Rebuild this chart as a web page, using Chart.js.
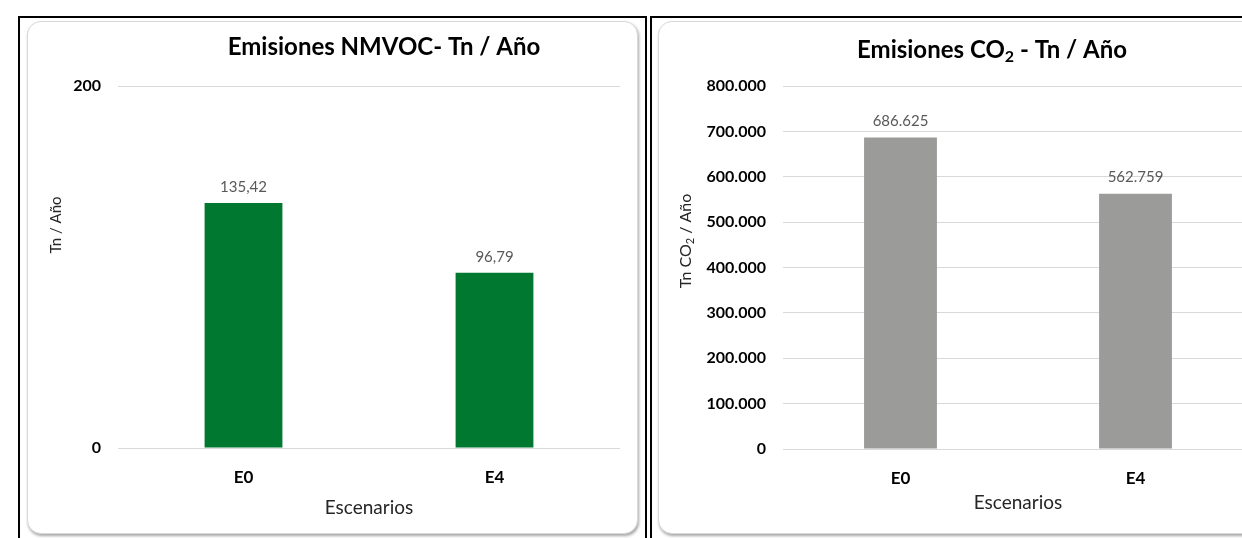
<!DOCTYPE html>
<html>
<head>
<meta charset="utf-8">
<script src="https://cdn.jsdelivr.net/npm/chart.js@4/dist/chart.umd.min.js"></script>
<style>
  body { margin:0; background:#fff; width:1242px; height:538px; overflow:hidden; position:relative; }
  .frame { position:absolute; top:16px; height:600px; border:2px solid #000; box-sizing:border-box; }
  .card { position:absolute; top:21px; width:611px; height:513px; border:1px solid #d9d9d9; border-radius:14px;
          box-shadow:1px 2px 3px rgba(0,0,0,0.35); background:#fff; box-sizing:border-box; overflow:hidden; }
  .card canvas { position:absolute; left:-1px; top:-1px; }
</style>
</head>
<body>
<div class="frame" style="left:18px;width:629px"></div>
<div class="frame" style="left:650px;width:700px"></div>
<div class="card" style="left:27px"><canvas id="nmvocChart" width="611" height="512"></canvas></div>
<div class="card" style="left:658px"><canvas id="co2Chart" width="611" height="512"></canvas></div>

<script>
// Scenario data
const scenarios = ["E0", "E4"];
const nmvocValues = [135.42, 96.79];
const co2Values = [686625, 562759];
const nmvocTicks = [0, 200];
const co2Ticks = [0, 100000, 200000, 300000, 400000, 500000, 600000, 700000, 800000];

const FONT = "Lato, 'Open Sans', sans-serif";

// spanish number format: 686.625 / 135,42
function fmtEs(v, dec) {
  const parts = v.toFixed(dec).split(".");
  const intPart = parts[0].replace(/\B(?=(\d{3})+(?!\d))/g, ".");
  return parts[1] ? intPart + "," + parts[1] : intPart;
}

// value above each bar
const valueLabels = {
  id: "valueLabels",
  afterDatasetsDraw(chart, args, opts) {
    const ctx = chart.ctx;
    const data = chart.data.datasets[0].data;
    ctx.save();
    ctx.font = "15px " + FONT;
    ctx.fillStyle = "#595959";
    ctx.textAlign = "center";
    ctx.textBaseline = "middle";
    chart.getDatasetMeta(0).data.forEach((bar, i) => {
      ctx.fillText(fmtEs(data[i], opts.decimals), bar.x, bar.y - 16);
    });
    ctx.restore();
  }
};

// text with subscripts (titles)
const richText = {
  id: "richText",
  afterDraw(chart, args, opts) {
    const ctx = chart.ctx;
    (opts.items || []).forEach(item => {
      ctx.save();
      ctx.translate(item.x, item.y);
      if (item.rotate) ctx.rotate(item.rotate);
      ctx.fillStyle = item.color;
      ctx.textBaseline = "middle";
      ctx.textAlign = "left";
      const big = item.weight + " " + item.size + "px " + FONT;
      const small = item.weight + " " + Math.round(item.size * 0.68) + "px " + FONT;
      let total = 0;
      item.parts.forEach(p => { ctx.font = p[1] ? small : big; total += ctx.measureText(p[0]).width; });
      let x = -total / 2;
      item.parts.forEach(p => {
        ctx.font = p[1] ? small : big;
        ctx.fillText(p[0], x, p[1] ? item.size * 0.28 : 0);
        x += ctx.measureText(p[0]).width;
      });
      ctx.restore();
    });
  }
};

function makeChart(id, values, ticks, color, opt) {
  return new Chart(document.getElementById(id), {
    type: "bar",
    data: {
      labels: scenarios,
      datasets: [{ data: values, backgroundColor: color, categoryPercentage: 1, barPercentage: 0.31 }]
    },
    options: {
      responsive: false,
      animation: false,
      layout: { padding: { top: 65, right: opt.padRight, bottom: 0, left: 0 } },
      plugins: {
        legend: { display: false },
        tooltip: { enabled: false },
        valueLabels: { decimals: opt.decimals },
        richText: { items: opt.titles }
      },
      scales: {
        x: {
          grid: { display: false },
          border: { display: false },
          ticks: { color: "#000", font: { family: FONT, size: 17, weight: "bold" }, padding: 11 },
          title: { display: true, text: "Escenarios", color: "#262626",
                   font: { family: FONT, size: 19 }, padding: { top: 0, bottom: opt.xTitlePad } },
          afterFit: s => { s.height = opt.xHeight; }
        },
        y: {
          min: ticks[0], max: ticks[ticks.length - 1],
          afterBuildTicks: s => { s.ticks = ticks.map(v => ({ value: v })); },
          grid: { color: "#d9d9d9", drawTicks: false },
          border: { display: false },
          ticks: { color: "#000", font: { family: FONT, size: 16, weight: "bold" }, padding: 17,
                   callback: v => fmtEs(v, 0) },
          afterFit: s => { s.width = opt.yWidth; }
        }
      }
    },
    plugins: [valueLabels, richText]
  });
}

makeChart("nmvocChart", nmvocValues, nmvocTicks, "#00782f", {
  decimals: 2, padRight: 18, yWidth: 91, xHeight: 85, xTitlePad: 14,
  titles: [
    { parts: [["Emisiones NMVOC- Tn / Año"]], x: 357, y: 26, size: 24, weight: "bold", color: "#000" },
    { parts: [["Tn / Año"]], x: 29, y: 204, size: 15, weight: "normal", color: "#262626", rotate: -Math.PI / 2 }
  ]
});

makeChart("co2Chart", co2Values, co2Ticks, "#9b9b99", {
  decimals: 0, padRight: 16, yWidth: 125, xHeight: 84, xTitlePad: 19,
  titles: [
    { parts: [["Emisiones CO"], ["2", true], [" - Tn / Año"]], x: 334, y: 29, size: 24, weight: "bold", color: "#000" },
    { parts: [["Tn CO"], ["2", true], [" / Año"]], x: 28, y: 220, size: 16, weight: "normal", color: "#262626", rotate: -Math.PI / 2 }
  ]
});
</script>
</body>
</html>
